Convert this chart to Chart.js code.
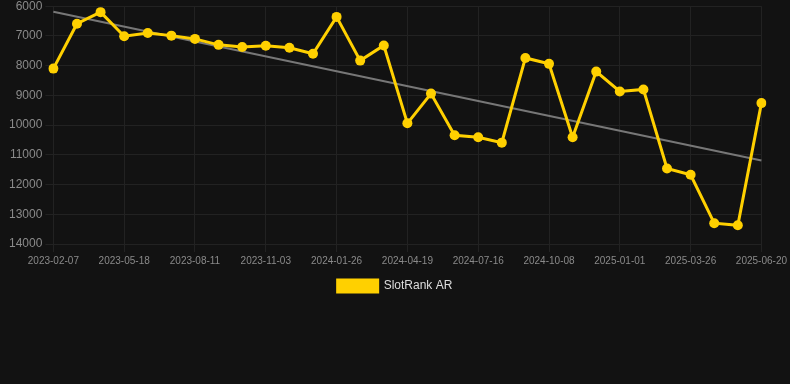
<!DOCTYPE html>
<html>
<head>
<meta charset="utf-8">
<script src="https://cdn.jsdelivr.net/npm/chart.js@4/dist/chart.umd.min.js"></script>
<style>
  html, body { margin: 0; padding: 0; background: #121212; overflow: hidden; }
  #wrap { width: 790px; height: 306px; position: relative; margin-top: -4px; }
</style>
</head>
<body>
<div id="wrap"><canvas id="rankChart"></canvas></div>
<script>
// Dates (only every third one is shown on the axis)
const dates = [
  '2023-02-07', '2023-03-10', '2023-04-14', '2023-05-18', '2023-06-16', '2023-07-14',
  '2023-08-11', '2023-09-08', '2023-10-06', '2023-11-03', '2023-12-01', '2023-12-29',
  '2024-01-26', '2024-02-23', '2024-03-22', '2024-04-19', '2024-05-17', '2024-06-14',
  '2024-07-16', '2024-08-13', '2024-09-10', '2024-10-08', '2024-11-05', '2024-12-03',
  '2025-01-01', '2025-01-29', '2025-02-26', '2025-03-26', '2025-04-23', '2025-05-21',
  '2025-06-20'
];

// Rank values
const rankAR = [
  8100, 6590, 6200, 7010, 6900, 6990, 7100, 7300, 7370, 7330, 7400, 7600,
  6360, 7830, 7320, 9940, 8940, 10340, 10410, 10590, 7740, 7940, 10410, 8200,
  8870, 8800, 11460, 11670, 13300, 13370, 9260
];

// Trend line end points
const trendStart = 6190;
const trendEnd = 11190;
const trend = dates.map((d, i) => (i === 0 ? trendStart : i === dates.length - 1 ? trendEnd : null));

const yTicks = [6000, 7000, 8000, 9000, 10000, 11000, 12000, 13000, 14000];

const gridColor = '#222222';
const tickColor = '#8a8a8a';

new Chart(document.getElementById('rankChart'), {
  type: 'line',
  data: {
    labels: dates,
    datasets: [
      {
        label: 'SlotRank AR',
        data: rankAR,
        borderColor: '#ffd000',
        backgroundColor: '#ffd000',
        borderWidth: 3,
        pointRadius: 5,
        pointBackgroundColor: '#ffd000',
        pointBorderWidth: 0,
        tension: 0,
      },
      {
        label: 'trend',
        data: trend,
        borderColor: '#777777',
        borderWidth: 2,
        pointRadius: 0,
        spanGaps: true,
        fill: false,
      },
    ],
  },
  options: {
    animation: false,
    responsive: true,
    maintainAspectRatio: false,
    layout: { padding: { left: 6, right: 6, top: 0, bottom: 0 } },
    plugins: {
      legend: {
        position: 'bottom',
        labels: {
          color: '#dddddd',
          boxWidth: 40,
          boxHeight: 12,
          font: { family: 'Liberation Sans, Arial', size: 12 },
          filter: (item) => item.text !== 'trend',
        },
      },
      tooltip: { enabled: false },
    },
    scales: {
      x: {
        grid: { color: gridColor, tickColor: gridColor },
        border: { color: gridColor },
        afterBuildTicks: (scale) => {
          scale.ticks = scale.ticks.filter((t, i) => i % 3 === 0);
        },
        ticks: {
          color: tickColor,
          autoSkip: false,
          maxRotation: 0,
          font: { family: 'Liberation Sans, Arial', size: 10 },
        },
      },
      y: {
        reverse: true,
        min: yTicks[0],
        max: yTicks[yTicks.length - 1],
        grid: { color: gridColor, tickColor: gridColor },
        border: { color: gridColor },
        afterBuildTicks: (scale) => {
          scale.ticks = yTicks.map((v) => ({ value: v }));
        },
        ticks: {
          color: tickColor,
          callback: (v) => String(v),
          font: { family: 'Liberation Sans, Arial', size: 12 },
        },
      },
    },
  },
});
</script>
</body>
</html>
